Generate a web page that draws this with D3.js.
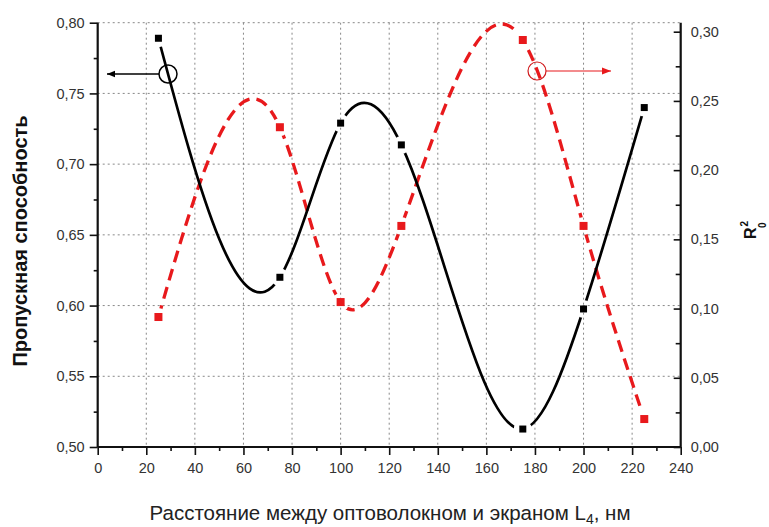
<!DOCTYPE html>
<html><head><meta charset="utf-8">
<script src="https://cdn.jsdelivr.net/npm/d3@7"></script>
<style>
body{margin:0;background:#fff;}
svg{font-family:"Liberation Sans",Arial,sans-serif;}
</style></head><body>
<svg id="c" width="769" height="527"></svg>
<script>
const distances = [25, 75, 100, 125, 175, 200, 225];
const transmission = [0.789, 0.620, 0.729, 0.7136, 0.5127, 0.5976, 0.740];
const r0squared = [0.0939, 0.231, 0.1047, 0.1597, 0.294, 0.1597, 0.0202];
const xTicks = [0,20,40,60,80,100,120,140,160,180,200,220,240];
const leftTicks = [0.50,0.55,0.60,0.65,0.70,0.75,0.80];
const rightTicks = [0.00,0.05,0.10,0.15,0.20,0.25,0.30];

// cubic spline curve in x (like Origin's "Spline" connection), for d3.line
function curveSplineX(context){
  let xs, ys;
  return {
    areaStart(){}, areaEnd(){},
    lineStart(){ xs=[]; ys=[]; },
    point(px,py){ xs.push(+px); ys.push(+py); },
    lineEnd(){
      const n = xs.length;
      if(!n) return;
      context.moveTo(xs[0],ys[0]);
      if(n<3){ for(let i=1;i<n;i++) context.lineTo(xs[i],ys[i]); return; }
      const h = [], M = new Array(n).fill(0);
      for(let i=0;i<n-1;i++) h.push(xs[i+1]-xs[i]);
      const a=[],b=[],c=[],d=[];
      for(let i=1;i<n-1;i++){
        a.push(h[i-1]); b.push(2*(h[i-1]+h[i])); c.push(h[i]);
        d.push(6*((ys[i+1]-ys[i])/h[i]-(ys[i]-ys[i-1])/h[i-1]));
      }
      const m=b.length;
      for(let i=1;i<m;i++){ const w=a[i]/b[i-1]; b[i]-=w*c[i-1]; d[i]-=w*d[i-1]; }
      const sol=new Array(m);
      sol[m-1]=d[m-1]/b[m-1];
      for(let i=m-2;i>=0;i--) sol[i]=(d[i]-c[i]*sol[i+1])/b[i];
      for(let i=0;i<m;i++) M[i+1]=sol[i];
      for(let i=0;i<n-1;i++){
        const hi=h[i], s=(ys[i+1]-ys[i])/hi;
        const m0 = s - hi*(2*M[i]+M[i+1])/6;
        const m1 = s + hi*(M[i]+2*M[i+1])/6;
        context.bezierCurveTo(xs[i]+hi/3, ys[i]+m0*hi/3, xs[i+1]-hi/3, ys[i+1]-m1*hi/3, xs[i+1], ys[i+1]);
      }
    }
  };
}

const svg = d3.select("#c");
const L = 97.7, R = 680.7, T = 22.7, B = 447;
const x = d3.scaleLinear().domain([0,240]).range([L,R]);
const yL = d3.scaleLinear().domain([0.5,0.8]).range([B,T]);
const yR = d3.scaleLinear().domain([0,0.3065]).range([B,T]);
const fmt = v => d3.format(".2f")(v).replace(".", ",");

// grid
const grid = svg.append("g").attr("stroke","#888").attr("stroke-width",1).attr("stroke-dasharray","2,3");
xTicks.filter(t=>t>0&&t<240).forEach(t=>{
  grid.append("line").attr("x1",x(t)).attr("x2",x(t)).attr("y1",T).attr("y2",B);
});
leftTicks.filter(t=>t>0.5).forEach(t=>{
  grid.append("line").attr("x1",L).attr("x2",R).attr("y1",yL(t)).attr("y2",yL(t));
});

// axes
const axB = svg.append("g").attr("transform",`translate(0,${B})`)
  .call(d3.axisBottom(x).tickValues(d3.range(0,241,10)).tickSize(8).tickFormat(d=>xTicks.includes(d)?d:""));
axB.selectAll(".tick line").attr("y2",d=>d%20===0?8:4);
const axLft = svg.append("g").attr("transform",`translate(${L},0)`)
  .call(d3.axisLeft(yL).tickValues(d3.range(0,13).map(i=>0.5+i*0.025)).tickSize(8)
  .tickFormat(d=>{const m=leftTicks.find(t=>Math.abs(t-d)<1e-6);return m!==undefined?fmt(m):"";}));
axLft.selectAll(".tick line").attr("x2",(d,i)=>i%2===0?-8:-4);
const axRt = svg.append("g").attr("transform",`translate(${R},0)`)
  .call(d3.axisRight(yR).tickValues(d3.range(0,13).map(i=>i*0.025)).tickSize(0).tickPadding(10)
  .tickFormat(d=>{const m=rightTicks.find(t=>Math.abs(t-d)<1e-6);return m!==undefined?fmt(m):"";}));
axRt.selectAll(".tick line").attr("x2",(d,i)=>i%2===0?-7:-5);
[axB,axLft,axRt].forEach(a=>{
  a.select(".domain").attr("stroke","#111").attr("stroke-width",2.2);
  a.selectAll(".tick line").attr("stroke","#111").attr("stroke-width",1.6);
  a.selectAll("text").attr("font-size",14.5).attr("fill","#333").attr("font-family","Liberation Sans, Arial, sans-serif");
});
axB.select(".domain").attr("d",`M${L},0H${R}`);
axLft.select(".domain").attr("d",`M0,${B}V${T}`);
axRt.select(".domain").attr("d",`M0,${B}V${T}`);
axB.selectAll("text").attr("dy","1.05em");
axLft.selectAll("text").attr("dx","-2");

// masks for gaps around symbols
const defs = svg.append("defs");
function mask(id, ys){
  const m = defs.append("mask").attr("id",id).attr("maskUnits","userSpaceOnUse")
    .attr("x",0).attr("y",0).attr("width",769).attr("height",527);
  m.append("rect").attr("width",769).attr("height",527).attr("fill","#fff");
  distances.forEach((d,i)=>m.append("circle").attr("cx",x(d)).attr("cy",ys(i)).attr("r",9).attr("fill","#000"));
}
mask("mb", i=>yL(transmission[i]));
mask("mr", i=>yR(r0squared[i]));

const lineB = d3.line().x((d,i)=>x(distances[i])).y(d=>yL(d)).curve(curveSplineX);
const lineR = d3.line().x((d,i)=>x(distances[i])).y(d=>yR(d)).curve(curveSplineX);

svg.append("path").attr("d",lineR(r0squared)).attr("fill","none").attr("stroke","#e8191c")
  .attr("stroke-width",3.3).attr("stroke-dasharray","12,7").attr("mask","url(#mr)");
svg.append("path").attr("d",lineB(transmission)).attr("fill","none").attr("stroke","#000")
  .attr("stroke-width",2.7).attr("mask","url(#mb)");

svg.selectAll(".mb").data(transmission).enter().append("rect")
  .attr("x",(d,i)=>x(distances[i])-3.5).attr("y",d=>yL(d)-3.5).attr("width",7).attr("height",7).attr("fill","#000");
svg.selectAll(".mr").data(r0squared).enter().append("rect")
  .attr("x",(d,i)=>x(distances[i])-4).attr("y",d=>yR(d)-4).attr("width",8).attr("height",8).attr("fill","#e8191c");

// legend markers with arrows
defs.append("marker").attr("id","ak").attr("viewBox","0 0 10 10").attr("refX",10).attr("refY",5)
  .attr("markerWidth",12).attr("markerHeight",8).attr("markerUnits","userSpaceOnUse").attr("orient","auto")
  .append("path").attr("d","M0,1L10,5L0,9Z").attr("fill","#000");
defs.append("marker").attr("id","ar").attr("viewBox","0 0 10 10").attr("refX",10).attr("refY",5)
  .attr("markerWidth",13).attr("markerHeight",9).attr("markerUnits","userSpaceOnUse").attr("orient","auto")
  .append("path").attr("d","M0,1L10,5L0,9Z").attr("fill","#e8191c");

svg.append("circle").attr("cx",168).attr("cy",74).attr("r",9).attr("fill","none").attr("stroke","#000").attr("stroke-width",1.5);
svg.append("line").attr("x1",159).attr("x2",107).attr("y1",74).attr("y2",74).attr("stroke","#000").attr("stroke-width",1.3)
  .attr("marker-end","url(#ak)");
svg.append("circle").attr("cx",537).attr("cy",71).attr("r",9).attr("fill","none").attr("stroke","#d01a1c").attr("stroke-width",1.2);
svg.append("line").attr("x1",546).attr("x2",611).attr("y1",71).attr("y2",71).attr("stroke","#e8191c").attr("stroke-width",1.2)
  .attr("marker-end","url(#ar)");

// axis titles
svg.append("text").attr("transform","translate(27,241) rotate(-90)").attr("text-anchor","middle")
  .attr("font-size",20).attr("font-weight","bold").attr("fill","#111").text("Пропускная способность");
const rt = svg.append("text").attr("transform","translate(756,239) rotate(-90)").attr("text-anchor","start")
  .attr("font-size",16).attr("font-weight","bold").attr("fill","#111");
rt.append("tspan").text("R");
rt.append("tspan").attr("font-size",10).attr("dy",-8).attr("dx",1).text("2");
rt.append("tspan").attr("font-size",10).attr("dy",18).attr("dx",-7).text("0");
const bt = svg.append("text").attr("x",390).attr("y",520).attr("text-anchor","middle")
  .attr("font-size",20.5).attr("fill","#222");
bt.append("tspan").text("Расстояние между оптоволокном и экраном L");
bt.append("tspan").attr("font-size",14).attr("dy",4).text("4");
bt.append("tspan").attr("dy",-4).text(", нм");
</script></body></html>
